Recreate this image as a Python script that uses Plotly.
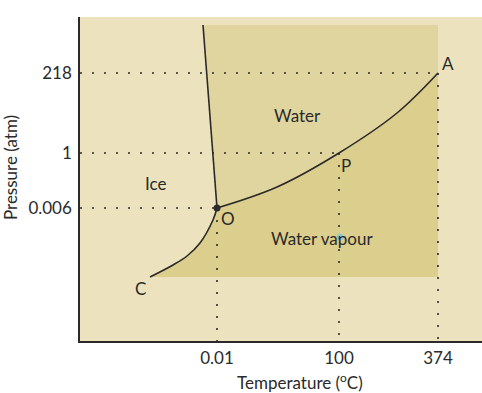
import plotly.graph_objects as go

# Schematic phase diagram of water (positions in schematic plot units)
temp_labels = ["0.01", "100", "374"]
temp_pos = [137, 259, 358]
pres_labels = ["0.006", "1", "218"]
pres_pos = [133, 188, 268]

# curve O -> P -> A (vaporisation)
oa_x = [137, 197, 259, 317, 358]
oa_y = [133, 154, 188, 228, 268]
# curve O -> C (sublimation)
oc_x = [137, 133, 120, 107, 93, 70]
oc_y = [133, 121, 98, 85, 76, 64]
# line B -> O (fusion)
bo_x = [123, 137]
bo_y = [316, 133]
top_y = 316
bottom_y = 64

LIGHT = "#ECE2BE"
MID = "#E1D59F"
DARK = "#DCCE8C"
INK = "#2a2a2a"
FONT = "Lato, Open Sans, sans-serif"
FS = 17

fig = go.Figure()

# Water region: B -> top right -> A -> along curve back to O -> B
wx = [bo_x[0], temp_pos[2]] + oa_x[::-1] + [bo_x[0]]
wy = [top_y, top_y] + oa_y[::-1] + [bo_y[0]]
fig.add_trace(go.Scatter(x=wx, y=wy, fill="toself", fillcolor=MID, mode="lines",
                         line=dict(width=0), hoverinfo="skip", showlegend=False))
# Vapour region: O -> A -> bottom right -> bottom left (C) -> along curve to O
vx = oa_x + [temp_pos[2], oc_x[-1]] + oc_x[::-1]
vy = oa_y + [bottom_y, bottom_y] + oc_y[::-1]
fig.add_trace(go.Scatter(x=vx, y=vy, fill="toself", fillcolor=DARK, mode="lines",
                         line=dict(width=0), hoverinfo="skip", showlegend=False))

# dotted guide lines
dot = dict(color=INK, width=1.6, dash="2px,10px")
for ex, ey in zip(temp_pos, pres_pos):
    fig.add_trace(go.Scatter(x=[0, ex], y=[ey, ey], mode="lines", line=dot,
                             hoverinfo="skip", showlegend=False))
    fig.add_trace(go.Scatter(x=[ex, ex], y=[ey, 0], mode="lines", line=dot,
                             hoverinfo="skip", showlegend=False))

# phase boundary curves
curve = dict(color=INK, width=1.6)
fig.add_trace(go.Scatter(x=oa_x, y=oa_y, mode="lines", line=dict(curve, shape="spline"),
                         hoverinfo="skip", showlegend=False))
fig.add_trace(go.Scatter(x=oc_x, y=oc_y, mode="lines", line=dict(curve, shape="spline"),
                         hoverinfo="skip", showlegend=False))
fig.add_trace(go.Scatter(x=bo_x, y=bo_y, mode="lines", line=curve,
                         hoverinfo="skip", showlegend=False))
# triple point
fig.add_trace(go.Scatter(x=[oa_x[0]], y=[oa_y[0]], mode="markers",
                         marker=dict(color=INK, size=7), hoverinfo="skip", showlegend=False))
# small blue spot
fig.add_trace(go.Scatter(x=[260], y=[104], mode="markers",
                         marker=dict(color="rgba(120,200,230,0.7)", size=7),
                         hoverinfo="skip", showlegend=False))

labels = [
    ("B", 120, 333), ("A", 368, 278), ("P", 266, 176), ("O", 148, 123),
    ("C", 60, 53), ("Ice", 75, 158), ("Water", 217, 226), ("Water vapour", 242, 103),
]
for t, x, y in labels:
    fig.add_annotation(x=x, y=y, text=t, showarrow=False,
                       font=dict(family=FONT, size=FS, color=INK))

# axis titles
fig.add_annotation(xref="x domain", yref="y domain",
                   x=(300 - 80) / 402, y=-(381 - 341) / 324,
                   text="Temperature (<sup>o</sup>C)", showarrow=False,
                   xanchor="center", yanchor="middle",
                   font=dict(family=FONT, size=FS, color=INK))
fig.add_annotation(xref="x domain", yref="y domain", x=-(80 - 10) / 402, y=(341 - 168) / 324,
                   text="Pressure (atm)", textangle=-90, showarrow=False,
                   xanchor="center", yanchor="middle",
                   font=dict(family=FONT, size=FS, color=INK))

fig.update_layout(
    width=482, height=393,
    margin=dict(l=80, r=0, t=17, b=52, autoexpand=False),
    paper_bgcolor="white", plot_bgcolor=LIGHT,
    font=dict(family=FONT, size=FS, color=INK),
    hovermode=False,
    xaxis=dict(range=[0, 402], showgrid=False, zeroline=False, automargin=False,
               tickvals=temp_pos, ticktext=temp_labels, fixedrange=True,
               ticks="outside", ticklen=1, tickcolor="rgba(0,0,0,0)",
               showline=True, linecolor=INK, linewidth=1.5),
    yaxis=dict(range=[0, 324], showgrid=False, zeroline=False, automargin=False,
               tickvals=pres_pos, ticktext=pres_labels, fixedrange=True,
               ticks="outside", ticklen=3, tickcolor="rgba(0,0,0,0)",
               showline=True, linecolor=INK, linewidth=1.5),
)

fig.write_html("out.html", config={"displayModeBar": False},
               post_script="document.body.style.margin='0';document.body.style.overflow='hidden';")
